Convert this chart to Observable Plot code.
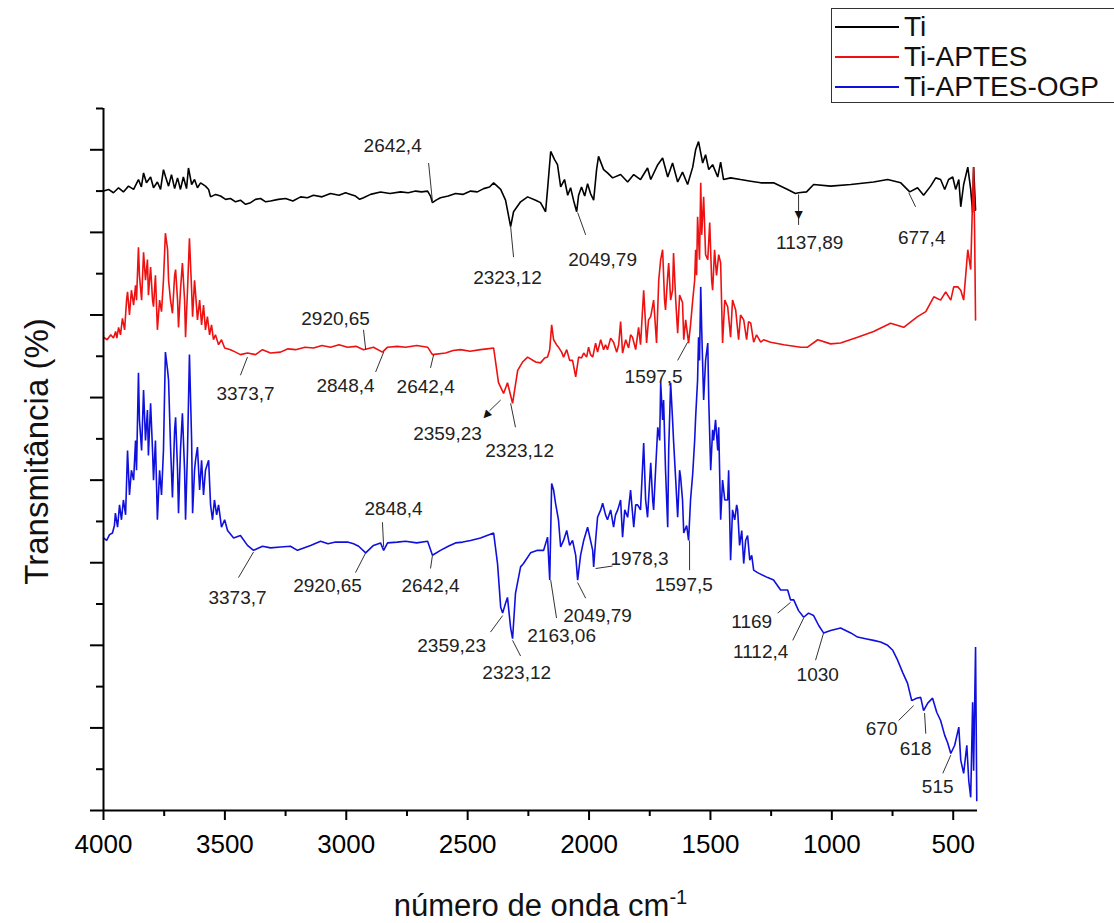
<!DOCTYPE html>
<html><head><meta charset="utf-8">
<script src="https://cdn.jsdelivr.net/npm/d3@7"></script>
<script src="https://cdn.jsdelivr.net/npm/@observablehq/plot@0.6"></script>
<style>
body{margin:0;background:#fff;}
#wrap{position:relative;width:1114px;height:923px;font-family:"Liberation Sans",Arial,sans-serif;}
#legend{position:absolute;left:831px;top:8px;width:283px;height:95px;border:1.5px solid #333;border-right:none;box-sizing:border-box;background:#fff;}
.item{position:absolute;left:0;height:30px;display:flex;align-items:center;font-size:28px;color:#111;white-space:nowrap;}
.item .sw{display:inline-block;width:64px;height:2px;margin:0 5px 0 3px;}
</style></head>
<body><div id="wrap"><div id="chart"></div><div id="legend"></div></div>
<script>
// x: wavenumber (cm-1), y: transmittance (arbitrary offset units)
const ti = [[4000,75.0],[3979,75.2],[3959,74.8],[3938,75.4],[3918,74.9],[3897,75.6],[3876,75.2],[3856,76.4],[3844,75.5],[3835,77.2],[3823,76.0],[3806,76.7],[3794,75.4],[3778,76.1],[3765,75.2],[3753,77.6],[3745,76.8],[3732,75.6],[3720,77.0],[3707,75.3],[3695,76.6],[3683,75.2],[3671,76.7],[3658,75.3],[3650,77.8],[3637,75.8],[3625,76.4],[3613,75.4],[3600,76.0],[3580,75.6],[3567,75.2],[3559,74.3],[3538,74.6],[3518,74.4],[3497,74.0],[3477,74.1],[3456,73.7],[3436,73.9],[3415,73.4],[3394,73.6],[3374,74.0],[3353,74.1],[3332,73.7],[3312,73.8],[3280,74.0],[3250,74.1],[3220,73.8],[3188,74.3],[3160,74.2],[3135,74.5],[3100,74.3],[3065,74.7],[3030,74.5],[3003,74.8],[2982,74.6],[2962,74.4],[2945,74.0],[2929,74.2],[2900,74.6],[2859,74.9],[2820,74.7],[2776,74.9],[2745,74.8],[2714,75.0],[2690,74.9],[2665,75.0],[2653,74.4],[2645,73.6],[2630,73.9],[2612,74.2],[2580,74.4],[2550,74.7],[2520,74.6],[2488,75.0],[2460,74.9],[2434,75.3],[2410,75.5],[2393,76.0],[2364,75.2],[2344,73.9],[2323,70.7],[2311,72.5],[2282,73.7],[2253,74.3],[2220,73.9],[2200,73.6],[2179,72.5],[2171,75.2],[2158,79.8],[2142,78.8],[2130,78.2],[2117,75.5],[2101,76.4],[2088,74.5],[2076,75.4],[2064,73.9],[2051,72.5],[2043,74.5],[2031,75.5],[2018,74.4],[2006,75.9],[1994,74.7],[1981,73.9],[1969,77.6],[1961,79.2],[1940,77.6],[1924,77.2],[1903,76.6],[1870,77.0],[1841,76.1],[1816,77.0],[1788,76.4],[1759,77.8],[1746,76.4],[1717,78.2],[1697,79.0],[1676,76.7],[1656,78.4],[1635,76.1],[1615,77.3],[1594,75.8],[1573,77.9],[1561,80.0],[1549,81.0],[1532,78.4],[1520,79.4],[1507,77.6],[1491,78.2],[1470,76.7],[1458,78.5],[1446,76.4],[1417,76.6],[1376,76.4],[1334,76.2],[1293,76.0],[1240,76.0],[1182,75.2],[1150,74.7],[1137,74.8],[1104,74.9],[1075,75.8],[1005,75.6],[922,75.8],[828,76.1],[770,76.4],[716,76.0],[679,74.9],[647,75.4],[622,74.5],[593,75.6],[572,76.6],[552,76.4],[535,75.2],[519,76.4],[502,76.7],[490,75.2],[477,76.4],[469,73.1],[457,75.8],[440,77.9],[428,75.2],[420,72.4],[416,77.9],[408,72.7]];

const tiAptes = [[4000,57.3],[3985,57.0],[3970,57.6],[3959,57.2],[3950,58.0],[3945,57.2],[3938,58.5],[3930,57.6],[3922,59.6],[3913,58.2],[3905,61.8],[3901,62.8],[3893,60.0],[3885,63.0],[3876,61.2],[3868,63.6],[3864,61.8],[3856,68.2],[3852,64.8],[3843,61.8],[3835,67.6],[3827,64.2],[3819,66.7],[3815,62.4],[3806,65.8],[3798,61.8],[3794,61.0],[3786,64.8],[3778,58.2],[3769,61.8],[3761,60.4],[3753,64.2],[3745,69.9],[3736,67.9],[3732,64.2],[3724,61.8],[3716,60.2],[3707,64.8],[3703,65.5],[3695,61.8],[3691,58.5],[3683,63.0],[3675,66.3],[3666,61.8],[3662,57.3],[3654,63.0],[3646,69.3],[3637,63.0],[3633,59.8],[3625,64.2],[3621,62.7],[3613,59.4],[3604,61.8],[3596,58.8],[3588,61.2],[3580,58.2],[3572,59.8],[3563,57.6],[3555,58.8],[3547,57.0],[3539,57.6],[3526,56.4],[3514,57.0],[3501,56.0],[3477,55.8],[3456,55.5],[3436,55.2],[3407,55.4],[3374,55.2],[3345,55.8],[3312,55.4],[3271,55.5],[3240,55.9],[3209,55.8],[3170,56.1],[3135,56.0],[3100,56.3],[3065,56.1],[3030,56.4],[2995,56.1],[2960,56.2],[2929,55.8],[2888,56.1],[2851,55.5],[2830,56.1],[2790,56.2],[2756,56.1],[2710,56.3],[2665,56.1],[2645,55.2],[2591,55.4],[2560,55.7],[2529,55.8],[2490,55.6],[2447,55.8],[2420,55.9],[2393,56.0],[2373,51.8],[2352,50.5],[2336,51.8],[2315,49.3],[2294,53.3],[2274,54.3],[2253,54.9],[2220,54.3],[2200,54.2],[2183,54.8],[2171,54.9],[2162,55.8],[2154,58.8],[2146,57.0],[2134,56.4],[2126,56.1],[2113,55.5],[2105,54.9],[2092,55.8],[2080,54.5],[2068,54.5],[2055,52.5],[2043,54.9],[2031,54.8],[2022,55.4],[2010,54.9],[2002,56.1],[1994,55.2],[1985,54.9],[1973,56.6],[1965,55.5],[1952,57.0],[1940,55.8],[1932,56.4],[1924,55.8],[1911,57.2],[1899,56.7],[1886,55.5],[1878,56.4],[1870,59.2],[1862,55.4],[1849,57.0],[1837,56.0],[1829,57.6],[1821,57.3],[1808,55.8],[1796,58.5],[1788,56.4],[1775,63.0],[1763,56.6],[1755,59.4],[1746,59.8],[1734,61.8],[1722,56.6],[1713,64.2],[1705,66.7],[1697,67.9],[1689,61.8],[1685,60.6],[1676,64.8],[1672,66.3],[1664,61.8],[1656,63.0],[1652,67.5],[1643,61.8],[1635,57.8],[1627,62.4],[1615,61.5],[1610,57.0],[1602,59.4],[1590,56.6],[1582,58.8],[1573,61.8],[1565,64.2],[1561,67.9],[1557,64.8],[1553,71.9],[1545,66.7],[1540,76.0],[1536,69.7],[1528,74.3],[1520,67.3],[1511,66.7],[1503,71.2],[1495,64.2],[1491,63.0],[1483,67.9],[1475,64.8],[1466,67.3],[1458,66.3],[1450,56.6],[1441,61.8],[1429,61.0],[1417,57.3],[1409,61.8],[1396,60.6],[1384,57.0],[1376,60.0],[1363,59.4],[1351,57.0],[1343,59.2],[1334,59.0],[1322,56.7],[1310,57.6],[1293,56.7],[1281,57.0],[1252,56.7],[1198,56.4],[1128,56.1],[1100,56.1],[1058,57.0],[1005,56.5],[964,56.6],[894,57.3],[828,58.0],[758,59.0],[704,58.5],[647,59.8],[613,60.4],[580,62.2],[552,61.8],[531,62.8],[510,61.8],[498,63.4],[481,63.4],[469,63.0],[457,61.8],[440,67.9],[428,65.5],[420,74.3],[416,77.9],[412,70.3],[408,59.4]];

const tiAptesOgp = [[4000,33.0],[3987,32.7],[3975,33.4],[3963,33.6],[3955,34.5],[3951,36.0],[3942,34.3],[3934,37.0],[3926,35.2],[3918,37.6],[3909,35.8],[3901,43.6],[3893,38.2],[3885,41.2],[3876,40.0],[3868,44.8],[3864,41.2],[3856,53.0],[3852,47.3],[3843,43.6],[3835,50.9],[3827,44.8],[3819,48.5],[3815,43.0],[3806,49.3],[3798,43.6],[3794,40.0],[3786,44.8],[3778,35.2],[3769,41.2],[3761,38.2],[3753,43.6],[3745,55.5],[3736,53.3],[3732,52.1],[3724,44.2],[3716,37.9],[3707,46.1],[3703,47.6],[3695,41.2],[3691,36.0],[3683,43.6],[3675,48.1],[3666,41.2],[3662,35.2],[3654,43.6],[3646,55.2],[3637,44.8],[3633,36.0],[3625,41.2],[3621,42.4],[3613,44.0],[3604,38.8],[3596,42.4],[3588,38.2],[3580,41.2],[3567,42.4],[3559,37.0],[3551,35.2],[3543,37.6],[3534,35.8],[3526,37.0],[3514,34.3],[3501,35.2],[3489,33.9],[3464,33.0],[3436,33.3],[3407,32.1],[3382,31.5],[3345,32.0],[3312,31.8],[3271,31.9],[3230,32.0],[3201,31.5],[3147,32.1],[3106,32.6],[3075,32.3],[3044,32.5],[2995,32.5],[2970,32.3],[2949,32.0],[2920,31.2],[2888,32.1],[2859,32.4],[2846,31.5],[2830,32.4],[2790,32.5],[2756,32.6],[2710,32.4],[2665,32.6],[2645,30.9],[2612,31.5],[2580,32.0],[2550,32.4],[2520,32.5],[2488,32.7],[2447,33.0],[2393,33.6],[2377,29.9],[2364,24.6],[2356,23.9],[2344,25.1],[2336,25.8],[2323,22.1],[2315,20.8],[2303,26.3],[2282,29.5],[2270,29.9],[2241,31.2],[2212,31.5],[2187,31.5],[2171,33.1],[2162,27.9],[2154,39.6],[2146,38.8],[2138,37.2],[2126,35.2],[2117,31.9],[2105,32.7],[2092,33.9],[2080,32.1],[2068,32.7],[2055,30.9],[2047,27.9],[2035,30.9],[2022,32.7],[2006,34.3],[1994,32.7],[1985,31.5],[1981,29.5],[1973,32.7],[1965,35.5],[1952,36.4],[1944,37.2],[1932,35.8],[1924,35.2],[1911,36.4],[1899,34.3],[1891,35.8],[1882,36.4],[1870,37.6],[1862,33.1],[1853,36.4],[1841,35.5],[1829,38.8],[1816,34.3],[1808,37.0],[1800,37.0],[1788,36.4],[1775,44.5],[1767,37.6],[1759,35.5],[1746,42.1],[1738,37.6],[1734,36.4],[1726,41.2],[1717,46.4],[1709,44.8],[1705,51.8],[1697,47.3],[1693,49.7],[1685,41.2],[1676,34.3],[1672,43.6],[1664,51.8],[1656,47.3],[1652,44.8],[1643,40.0],[1635,35.5],[1627,41.2],[1623,40.4],[1615,37.6],[1610,33.6],[1598,34.5],[1590,32.7],[1582,37.6],[1573,40.8],[1565,44.8],[1561,47.6],[1553,52.1],[1549,57.3],[1545,54.5],[1540,63.4],[1536,58.2],[1528,49.7],[1520,54.5],[1511,56.6],[1507,49.7],[1499,41.2],[1491,46.1],[1487,44.8],[1479,47.3],[1470,43.6],[1466,46.4],[1458,35.2],[1450,40.0],[1441,37.6],[1429,37.6],[1425,41.2],[1417,30.3],[1409,36.4],[1400,35.2],[1392,37.0],[1388,36.4],[1380,32.1],[1371,33.9],[1363,29.9],[1355,32.7],[1347,33.3],[1338,30.3],[1330,30.9],[1322,29.1],[1306,28.8],[1264,28.2],[1240,27.9],[1211,26.7],[1182,26.7],[1170,25.5],[1157,25.5],[1137,24.2],[1116,23.4],[1096,23.9],[1075,23.6],[1054,22.4],[1034,21.5],[1005,21.8],[964,22.1],[922,21.5],[894,21.0],[861,20.8],[828,20.6],[799,20.4],[770,20.0],[749,19.4],[729,18.2],[708,16.7],[688,15.4],[671,13.3],[651,13.6],[634,13.7],[622,12.1],[605,13.0],[585,13.6],[568,11.9],[552,10.9],[535,9.1],[523,8.2],[510,6.9],[494,7.9],[477,10.1],[469,6.1],[457,4.5],[444,7.9],[436,3.6],[428,1.6],[420,13.1],[416,4.8],[408,19.8],[403,1.2]];

const seriesNames = ["Ti", "Ti-APTES", "Ti-APTES-OGP"];
const seriesColors = ["#000000", "#ee1111", "#1010dd"];

const xMajorTicks = [4000, 3500, 3000, 2500, 2000, 1500, 1000, 500];
const xMinorTicks = [3750, 3250, 2750, 2250, 1750, 1250, 750];
const yMajorTicks = [0, 10, 20, 30, 40, 50, 60, 70, 80];
const yMinorTicks = [5, 15, 25, 35, 45, 55, 65, 75, 85];

// [label, label wn, label T, leader wn1, T1, wn2, T2]
const tiPeaks = [
  ["2642,4", 2809, 80.5, 2661, 78.4, 2645, 73.7],
  ["2323,12", 2336, 64.5, 2323, 70.7, 2311, 67.0],
  ["2049,79", 1944, 66.7, 2047, 72.4, 2014, 69.7],
  ["1137,89", 1091, 68.7, 1137, 74.6, 1137, 70.9],
  ["677,4", 630, 69.3, 683, 74.8, 655, 73.1]
];
const tiAptesPeaks = [
  ["2920,65", 3044, 59.5, 2929, 58.2, 2920, 55.8],
  ["3373,7", 3415, 50.5, 3436, 52.7, 3407, 54.9],
  ["2848,4", 3003, 51.4, 2879, 53.1, 2846, 55.5],
  ["2642,4", 2673, 51.3, 2653, 53.6, 2640, 55.2],
  ["2359,23", 2583, 45.6, 2364, 49.7, 2410, 48.4],
  ["2323,12", 2286, 43.6, 2323, 49.3, 2303, 46.4],
  ["1597,5", 1734, 52.5, 1635, 54.5, 1594, 56.7]
];
const tiAptesOgpPeaks = [
  ["2848,4", 2805, 36.5, 2851, 34.9, 2846, 31.9],
  ["3373,7", 3448, 25.7, 3444, 28.2, 3382, 31.3],
  ["2920,65", 3077, 27.2, 2962, 28.8, 2920, 31.2],
  ["2642,4", 2653, 27.2, 2653, 29.3, 2645, 30.9],
  ["2359,23", 2566, 19.9, 2406, 21.6, 2356, 23.6],
  ["2323,12", 2298, 16.7, 2315, 20.6, 2282, 18.7],
  ["2163,06", 2113, 21.2, 2158, 27.9, 2134, 23.3],
  ["2049,79", 1965, 23.6, 2047, 27.6, 2014, 25.7],
  ["1978,3", 1792, 30.5, 1973, 29.3, 1903, 29.6],
  ["1597,5", 1610, 27.3, 1586, 32.7, 1586, 29.1],
  ["1169", 1330, 22.8, 1223, 23.9, 1170, 25.2],
  ["1112,4", 1293, 19.2, 1161, 20.6, 1116, 23.3],
  ["1030", 1058, 16.4, 1067, 18.2, 1034, 21.5],
  ["670", 795, 9.9, 725, 10.9, 663, 12.7],
  ["618", 655, 7.5, 618, 11.8, 613, 9.3],
  ["515", 564, 2.8, 543, 4.5, 510, 6.7]
];
// arrow heads: [wn, T, rotation]
const arrowHeads = [[1137, 72.2, 0], [2422, 47.9, 42]];

const allPeaks = [...tiPeaks, ...tiAptesPeaks, ...tiAptesOgpPeaks];
const lineData = [ti, tiAptes, tiAptesOgp].flatMap((s, i) => s.map(([wn, t]) => ({wn, t, name: seriesNames[i]})));

const font = "'Liberation Sans', Arial, sans-serif";
const chart = Plot.plot({
  width: 1114, height: 923,
  marginLeft: 103, marginRight: 137, marginTop: 108, marginBottom: 113,
  x: {domain: [4000, 400], axis: null},
  y: {domain: [0, 85], axis: null},
  color: {domain: seriesNames, range: seriesColors},
  style: {fontFamily: font, background: "#fff", color: "#000"},
  marks: [
    Plot.line(lineData, {x: "wn", y: "t", z: "name", stroke: "name", strokeWidth: 1.6, strokeLinejoin: "miter"}),
    Plot.link(allPeaks, {x1: d => d[3], y1: d => d[4], x2: d => d[5], y2: d => d[6], stroke: "#333", strokeWidth: 1}),
    Plot.text(allPeaks, {x: d => d[1], y: d => d[2], text: d => d[0], fontSize: 19, fill: "#222"}),
    Plot.text(arrowHeads, {x: d => d[0], y: d => d[1], rotate: d => d[2], text: () => "\u25BC", fontSize: 14, fill: "#111"}),
    Plot.axisX(xMajorTicks, {anchor: "bottom", tickSize: 10, tickPadding: 14, strokeWidth: 2, fontSize: 26, tickFormat: d => String(d), label: null, fill: "#000"}),
    Plot.axisX(xMinorTicks, {anchor: "bottom", tickSize: 6, strokeWidth: 2, tickFormat: () => "", label: null}),
    Plot.axisY(yMajorTicks, {anchor: "left", tickSize: 13, strokeWidth: 2, tickFormat: () => "", label: null}),
    Plot.axisY(yMinorTicks, {anchor: "left", tickSize: 7, strokeWidth: 2, tickFormat: () => "", label: null}),
    Plot.ruleY([0], {stroke: "#000", strokeWidth: 2}),
    Plot.ruleX([4000], {y1: 0, y2: 85, stroke: "#000", strokeWidth: 2}),
    Plot.text(["número de onda cm"], {frameAnchor: "bottom", dy: 105, fontSize: 31, fill: "#111"}),
    Plot.text(["Transmitância (%)"], {frameAnchor: "left", textAnchor: "middle", dx: -66, dy: -8, rotate: -90, fontSize: 33, fill: "#111"})
  ]
});
document.getElementById("chart").appendChild(chart);
chart.querySelectorAll("text").forEach(t => {
  if (t.textContent === "número de onda cm") {
    const ts = document.createElementNS("http://www.w3.org/2000/svg", "tspan");
    ts.setAttribute("dy", "-0.55em");
    ts.setAttribute("font-size", "0.65em");
    ts.textContent = "-1";
    t.appendChild(ts);
  }
});

const legend = document.getElementById("legend");
seriesNames.forEach((n, i) => {
  const it = document.createElement("div");
  it.className = "item";
  it.style.top = (3 + i * 30) + "px";
  it.innerHTML = `<span class="sw" style="background:${seriesColors[i]}"></span>${n}`;
  legend.appendChild(it);
});
</script>
</body></html>
